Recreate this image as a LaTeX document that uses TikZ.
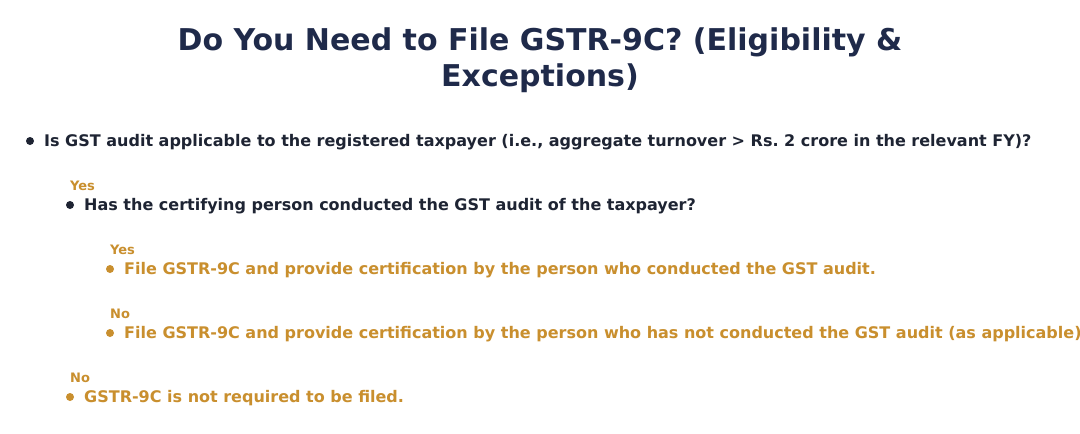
\documentclass[tikz,border=0pt]{standalone}
\usepackage{fontspec}
\setmainfont{DejaVu Sans}
\frenchspacing
\definecolor{navy}{HTML}{1F2A4A}
\definecolor{ink}{HTML}{1E2433}
\definecolor{gold}{HTML}{C98F2E}
\begin{document}
\begin{tikzpicture}[x=1pt,y=-1pt,
  title/.style={font=\fontsize{30}{36}\selectfont\bfseries, text=navy, align=center, inner sep=0pt},
  item/.style={font=\fontsize{16}{19}\selectfont\bfseries, anchor=base west, inner sep=0pt},
  q/.style={item, text=ink},
  ans/.style={item, text=gold},
  lab/.style={font=\fontsize{13}{15}\selectfont\bfseries, text=gold, anchor=base west, inner sep=0pt},
  dotink/.style={fill=ink, draw=none},
  dotgold/.style={fill=gold, draw=none}]
\clip (0,0) rectangle (1080,434);
\fill[white] (0,0) rectangle (1080,434);
\node[title, anchor=base] (t1) at (540,50) {Do You Need to File GSTR-9C? (Eligibility \&};
\node[title, anchor=base] (t2) at (540,86) {Exceptions)};

\fill[dotink] (30,141) circle (4);
\node[q] (q1) at (44,146) {Is GST audit applicable to the registered taxpayer (i.e., aggregate turnover > Rs. 2 crore in the relevant FY)?};

\node[lab] (l1) at (70,190) {Yes};
\fill[dotink] (70,205) circle (4);
\node[q] (q2) at (84,210) {Has the certifying person conducted the GST audit of the taxpayer?};

\node[lab] (l2) at (110,254) {Yes};
\fill[dotgold] (110,269) circle (4);
\node[ans] (a1) at (124,274) {File GSTR-9C and provide certification by the person who conducted the GST audit.};

\node[lab] (l3) at (110,318) {No};
\fill[dotgold] (110,333) circle (4);
\node[ans] (a2) at (124,338) {File GSTR-9C and provide certification by the person who has not conducted the GST audit (as applicable).};

\node[lab] (l4) at (70,382) {No};
\fill[dotgold] (70,397) circle (4);
\node[ans] (a3) at (84,402) {GSTR-9C is not required to be filed.};
\end{tikzpicture}
\end{document}
